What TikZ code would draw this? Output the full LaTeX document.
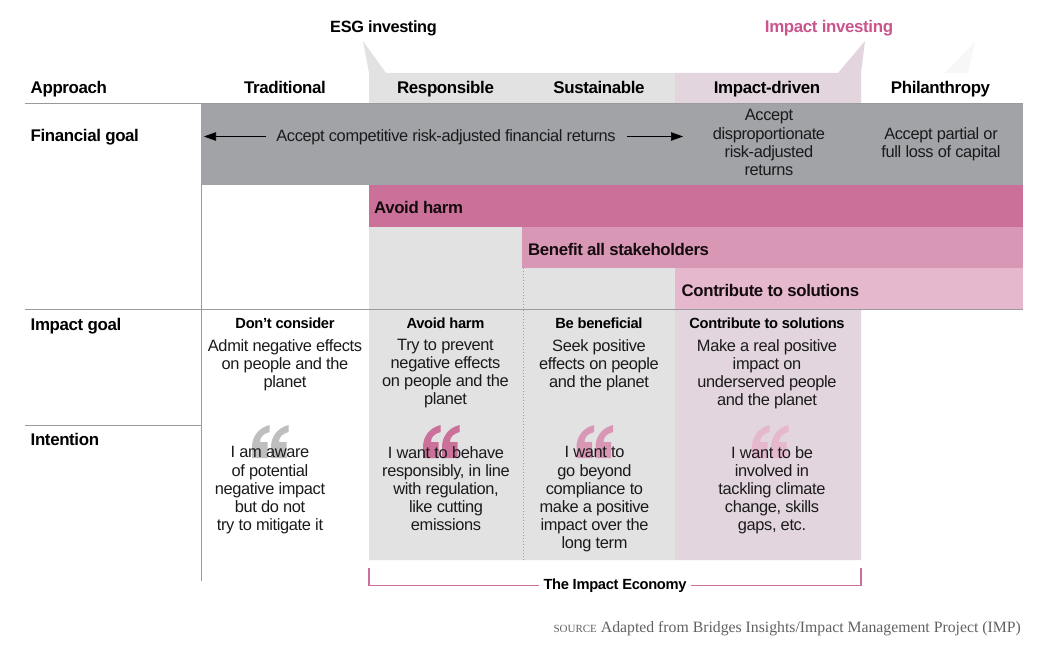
\documentclass[tikz,border=0pt]{standalone}
\usepackage{fontspec}
\setmainfont{Liberation Sans}[LetterSpace=-2.2]
\newfontfamily\srcfont{Liberation Serif}
\usetikzlibrary{arrows.meta}
\definecolor{bandgray}{HTML}{A1A3A6}
\definecolor{palegray}{HTML}{E2E2E3}
\definecolor{palepink}{HTML}{E3D5DD}
\definecolor{pinkA}{HTML}{CB7099}
\definecolor{pinkB}{HTML}{D997B6}
\definecolor{pinkC}{HTML}{E6B8CD}
\definecolor{titlepink}{HTML}{C9558C}
\definecolor{rulegray}{HTML}{9A9A9D}
\definecolor{inktext}{HTML}{1A1A1C}
\tikzset{
  head/.style={font=\fontsize{16.9}{18}\selectfont\bfseries,text=black,inner sep=0pt,anchor=base},
  rowhead/.style={head,anchor=base west},
  body/.style={font=\fontsize{16.4}{18.1}\selectfont,text=inktext,inner sep=0pt,align=center,anchor=north},
  sub/.style={font=\fontsize{14.7}{18}\selectfont\bfseries,text=black,inner sep=0pt,anchor=base},
  barlabel/.style={head,font=\fontsize{16.8}{18}\selectfont\bfseries,anchor=base west,text=black!90!pinkA},
  rulerow/.style={draw=rulegray,line width=1pt},
  finarrow/.style={draw=black,line width=0.6pt,-{Triangle[length=12pt,width=8.5pt]}},
  qmark/.pic={
    \foreach \dx in {0,19}{
      \fill[xshift=\dx pt,pic actions] (17.5,0) .. controls (6,3) and (0,12) .. (0,22) -- (0,33) -- (15.5,33) -- (15.5,17) -- (8,17) .. controls (8,12) and (11,9) .. (17.5,7) -- cycle;
    }
  },
}
\begin{document}
\begin{tikzpicture}[x=1pt,y=-1pt]
\useasboundingbox (0,0) rectangle (1050,647);
% pale columns
\fill[palegray] (369,103) -- (369,73) -- (363,41) -- (386,73) -- (675,73) -- (675,560) -- (369,560) -- cycle;
\fill[palepink] (675,73) -- (838,73) -- (865,41) -- (861,73) -- (861,560) -- (675,560) -- cycle;
\fill[black!3] (945,73) -- (975,42) -- (968,73) -- cycle;
% bands
\fill[bandgray] (201,103) rectangle (1023,185);
\fill[pinkA] (369,185) rectangle (1023,227);
\fill[pinkB] (522,227) rectangle (1023,268);
\fill[pinkC] (675,268) rectangle (1023,309);
% rules
\coordinate (ruleAl) at (25,103.5); \coordinate (ruleAr) at (1023,103.5);
\coordinate (ruleBl) at (25,309); \coordinate (ruleBr) at (1023,309);
\coordinate (ruleCl) at (25,425); \coordinate (ruleCr) at (201,425);
\coordinate (ruleVt) at (201,185); \coordinate (ruleVb) at (201,581);
\draw[rulerow] (ruleAl) -- (ruleAr);
\draw[rulerow] (ruleBl) -- (ruleBr);
\draw[rulerow] (ruleCl) -- (ruleCr);
\draw[rulerow] (ruleVt) -- (ruleVb);
\coordinate (dotT) at (523.5,268); \coordinate (dotB) at (523.5,560);
\draw[black!40,line width=1pt,dash pattern=on 1pt off 2pt] (dotT) -- (dotB);
% top titles
\node[head,font=\fontsize{16.3}{18}\selectfont\bfseries] (esg) at (383.5,33) {ESG investing};
\node[head,text=titlepink] (imp) at (829,33) {Impact investing};
% header row
\node[rowhead] (approach) at (30.5,93.5) {Approach};
\node[head] (trad) at (285,93.5) {Traditional};
\node[head] (resp) at (445.5,93.5) {Responsible};
\node[head] (sust) at (599,93.5) {Sustainable};
\node[head] (impd) at (767,93.5) {Impact-driven};
\node[head] (phil) at (940.5,93.5) {Philanthropy};
% financial
\node[rowhead] (fin) at (30.5,142) {Financial goal};
\node[body,anchor=base] (ret) at (446,142) {Accept competitive risk-adjusted financial returns};
\coordinate (arrL) at (204,136.5); \coordinate (arrR) at (683,136.5);
\draw[finarrow] (266,136.5) -- (arrL);
\draw[finarrow] (627,136.5) -- (arrR);
\node[body] (disp) at (769,109.5) {Accept\\disproportionate\\risk-adjusted\\returns};
\node[body] (loss) at (941,127.5) {Accept partial or\\full loss of capital};
% bars
\node[barlabel] (b1) at (374,214) {Avoid harm};
\node[barlabel] (b2) at (528,255.5) {Benefit all stakeholders};
\node[barlabel] (b3) at (681.5,296.5) {Contribute to solutions};
% impact goal
\node[rowhead] (ig) at (30.5,330.5) {Impact goal};
\node[sub] (s1) at (285,328.5) {Don't consider};
\node[sub] (s2) at (445.5,328.5) {Avoid harm};
\node[sub] (s3) at (599,328.5) {Be beneficial};
\node[sub] (s4) at (767,328.5) {Contribute to solutions};
\node[body] (g1) at (285,339) {Admit negative effects\\on people and the\\planet};
\node[body] (g2) at (445.5,339) {Try to prevent\\negative effects\\on people and the\\planet};
\node[body] (g3) at (599,339) {Seek positive\\effects on people\\and the planet};
\node[body] (g4) at (767,339) {Make a real positive\\impact on\\underserved people\\and the planet};
% intention
\node[rowhead] (int) at (30.5,445.5) {Intention};
\pic[black!25] at (252,425) {qmark};
\pic[pinkA] at (423,425) {qmark};
\pic[pinkB] at (576.5,425) {qmark};
\pic[pinkC] at (752,425) {qmark};
\node[body] (t1) at (270,446.5) {I am aware\\of potential\\negative impact\\but do not\\try to mitigate it};
\node[body] (t2) at (446,446.5) {I want to behave\\responsibly, in line\\with regulation,\\like cutting\\emissions};
\node[body] (t3) at (594.5,446.5) {I want to\\go beyond\\compliance to\\make a positive\\impact over the\\long term};
\node[body] (t4) at (772,446.5) {I want to be\\involved in\\tackling climate\\change, skills\\gaps, etc.};
% bracket
\node[sub] (econ) at (615,589.5) {The Impact Economy};
\coordinate (brLt) at (369,568); \coordinate (brLb) at (369,585.5);
\coordinate (brRt) at (861,568); \coordinate (brRb) at (861,585.5);
\draw[pinkA,line width=1.1pt] (brLt) -- (brLb) -- ([xshift=-4pt]econ.west |- brLb);
\draw[pinkA,line width=1.1pt] (brRt) -- (brRb) -- ([xshift=4pt]econ.east |- brRb);
% source
\node[inner sep=0pt,anchor=base east,text=black!62,font=\fontsize{15.75}{18}\srcfont] (src) at (1021,632) {{\fontsize{11}{12}\selectfont SOURCE} Adapted from Bridges Insights/Impact Management Project (IMP)};
\end{tikzpicture}
\end{document}
